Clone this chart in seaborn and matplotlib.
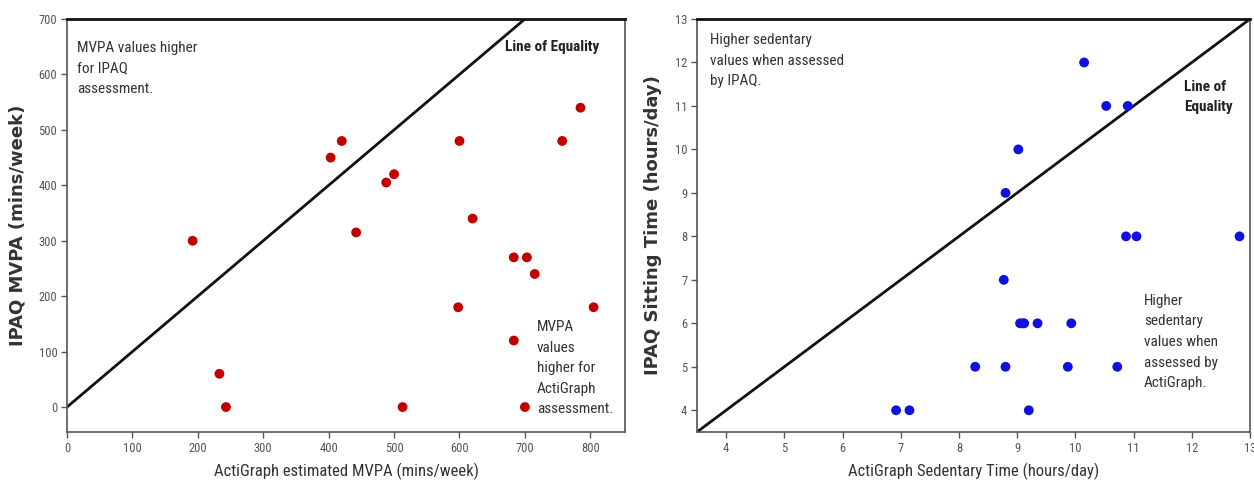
import matplotlib
matplotlib.use("Agg")
import matplotlib.pyplot as plt
import seaborn as sns
import pandas as pd

# Left panel: MVPA
acti_mvpa = [192, 233, 243, 403, 420, 442, 488, 500, 513, 600, 598, 620, 683, 703, 715, 683, 700, 757, 785, 805]
ipaq_mvpa = [300, 60, 0, 450, 480, 315, 405, 420, 0, 480, 180, 340, 270, 270, 240, 120, 0, 480, 540, 180]
mvpa_xticks = [0, 100, 200, 300, 400, 500, 600, 700, 800]
mvpa_yticks = [0, 100, 200, 300, 400, 500, 600, 700]

# Right panel: sedentary time
acti_sed = [6.92, 7.15, 9.2, 8.28, 8.8, 9.87, 10.72, 9.05, 9.1, 9.12, 9.35, 9.93, 8.77, 10.87, 11.05, 12.82, 8.8, 9.02, 10.53, 10.9, 10.15]
ipaq_sit = [4, 4, 4, 5, 5, 5, 5, 6, 6, 6, 6, 6, 7, 8, 8, 8, 9, 10, 11, 11, 12]
sed_xticks = [4, 5, 6, 7, 8, 9, 10, 11, 12, 13]
sed_yticks = [4, 5, 6, 7, 8, 9, 10, 11, 12, 13]

sns.set_theme(style="white")
NARROW = ['Liberation Sans Narrow', 'Roboto Condensed', 'DejaVu Sans']
plt.rcParams['font.family'] = NARROW

fig = plt.figure(figsize=(12.54, 4.9), dpi=100)
ax1 = fig.add_axes([67/1254, 1-432/490, (625-67)/1254, (432-19)/490])
ax2 = fig.add_axes([697/1254, 1-432/490, (1250-697)/1254, (432-19)/490])

df1 = pd.DataFrame({"x": acti_mvpa, "y": ipaq_mvpa})
df2 = pd.DataFrame({"x": acti_sed, "y": ipaq_sit})

sns.scatterplot(data=df1, x="x", y="y", ax=ax1, color="#c00000", s=50, edgecolor="none", zorder=3)
sns.scatterplot(data=df2, x="x", y="y", ax=ax2, color="#1010e0", s=50, edgecolor="none", zorder=3)

ax1.set_xlim(0, 853)
ax1.set_ylim(-45, 700)
ax1.plot([0, 700], [0, 700], color="#111111", lw=2, zorder=2)
ax2.set_xlim(3.5, 13)
ax2.set_ylim(3.5, 13)
ax2.plot([3.5, 13], [3.5, 13], color="#111111", lw=2, zorder=2)

for ax, xt, yt in [(ax1, mvpa_xticks, mvpa_yticks), (ax2, sed_xticks, sed_yticks)]:
    ax.set_xticks(xt)
    ax.set_yticks(yt)
    ax.tick_params(axis="both", which="both", direction="out", length=4, width=1,
                   colors="#555555", labelsize=9, bottom=True, left=True, pad=3)
    for side, sp in ax.spines.items():
        sp.set_visible(True)
        sp.set_color("#555555")
        sp.set_linewidth(1.2)
    ax.spines["top"].set_color("#111111")
    ax.spines["top"].set_linewidth(2)

ax1.set_xlabel("ActiGraph estimated MVPA (mins/week)", fontsize=12, color="#333333", labelpad=6)
ax1.set_ylabel("IPAQ MVPA (mins/week)", fontsize=13, fontweight="bold", color="#333333",
               family="DejaVu Sans", labelpad=9)
ax2.set_xlabel("ActiGraph Sedentary Time (hours/day)", fontsize=12, color="#333333", labelpad=6)
ax2.set_ylabel("IPAQ Sitting Time (hours/day)", fontsize=13, fontweight="bold", color="#333333",
               family="DejaVu Sans", labelpad=9)

tkw = dict(fontsize=11, color="#333333", va="top", ha="left", linespacing=1.6)
ax1.text(15, 660, "MVPA values higher\nfor IPAQ\nassessment.", **tkw)
ax1.text(670, 662, "Line of Equality", fontweight="bold", fontsize=11, color="#222222", va="top", ha="left")
ax1.text(718, 157, "MVPA\nvalues\nhigher for\nActiGraph\nassessment.", **tkw)

ax2.text(3.72, 12.68, "Higher sedentary\nvalues when assessed\nby IPAQ.", **tkw)
ax2.text(11.86, 11.6, "Line of\nEquality", fontweight="bold", fontsize=11, color="#222222",
         va="top", ha="left", linespacing=1.6)
ax2.text(11.18, 6.68, "Higher\nsedentary\nvalues when\nassessed by\nActiGraph.", **tkw)

fig.savefig("out.png", dpi=100)
